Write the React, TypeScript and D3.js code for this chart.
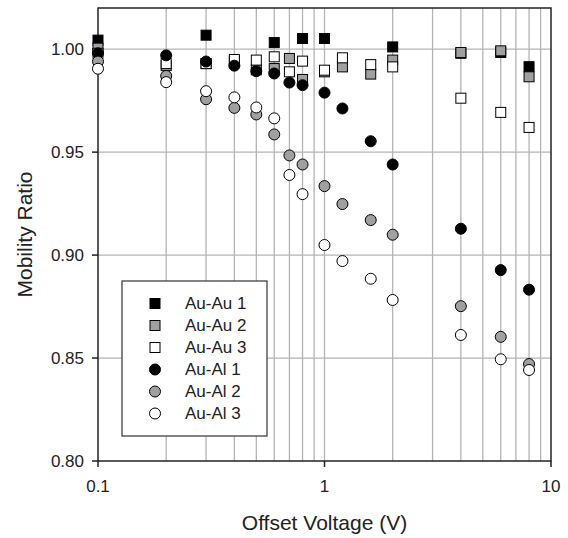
import React from "react";
import * as d3 from "d3";

const voltages = [0.1, 0.2, 0.3, 0.4, 0.5, 0.6, 0.7, 0.8, 1.0, 1.2, 1.6, 2, 4, 6, 8];

const auAu1X = [0.1, 0.3, 0.6, 0.8, 1.0, 2, 4, 6, 8];
const auAu1 = [1.0044, 1.0068, 1.0032, 1.0052, 1.0052, 1.0011, 0.998, 0.9984, 0.9915];

const auAu2 = [1.0005, 0.992, 0.993, 0.994, 0.990, 0.9906, 0.9955, 0.9853, 0.989, 0.9914, 0.9879, 0.9947, 0.9984, 0.9992, 0.9866];
const auAu3 = [0.998, 0.993, 0.993, 0.995, 0.9947, 0.9963, 0.989, 0.9942, 0.9898, 0.9958, 0.9925, 0.9914, 0.9762, 0.9693, 0.962];
const auAl1 = [0.998, 0.997, 0.994, 0.992, 0.9893, 0.9882, 0.9838, 0.9825, 0.9789, 0.9712, 0.9553, 0.944, 0.9128, 0.8927, 0.8832];
const auAl2 = [0.994, 0.987, 0.9757, 0.9715, 0.9683, 0.9586, 0.9484, 0.944, 0.9335, 0.9248, 0.917, 0.9099, 0.8752, 0.8603, 0.8471];
const auAl3 = [0.9905, 0.984, 0.9796, 0.9766, 0.9717, 0.9664, 0.9389, 0.9296, 0.9049, 0.8971, 0.8885, 0.8782, 0.8612, 0.8494, 0.8442];

const yTicks = [0.8, 0.85, 0.9, 0.95, 1.0];
const xTicks = [0.1, 1, 10];
const xGrid = [0.2, 0.3, 0.4, 0.5, 0.6, 0.7, 0.8, 0.9, 1, 2, 3, 4, 5, 6, 7, 8, 9];

const seriesNames = ["Au-Au 1", "Au-Au 2", "Au-Au 3", "Au-Al 1", "Au-Al 2", "Au-Al 3"];

const W = 568;
const H = 538;
const left = 98;
const right = 551;
const top = 8;
const bottom = 461;
const font = "'Liberation Sans', Arial, sans-serif";

const series = [
  { name: seriesNames[0], xs: auAu1X, ys: auAu1, shape: "square", fill: "#000" },
  { name: seriesNames[1], xs: voltages, ys: auAu2, shape: "square", fill: "#a0a0a0" },
  { name: seriesNames[2], xs: voltages, ys: auAu3, shape: "square", fill: "#fff" },
  { name: seriesNames[3], xs: voltages, ys: auAl1, shape: "circle", fill: "#000" },
  { name: seriesNames[4], xs: voltages, ys: auAl2, shape: "circle", fill: "#a0a0a0" },
  { name: seriesNames[5], xs: voltages, ys: auAl3, shape: "circle", fill: "#fff" },
];

function Marker({ shape, fill, cx, cy }: { shape: string; fill: string; cx: number; cy: number }) {
  if (shape === "square") {
    return <rect x={cx - 5} y={cy - 5} width={10} height={10} fill={fill} stroke="#000" strokeWidth={1} />;
  }
  return <circle cx={cx} cy={cy} r={5.5} fill={fill} stroke="#000" strokeWidth={1} />;
}

export default function App() {
  const x = d3.scaleLog().domain([0.1, 10]).range([left, right]);
  const y = d3.scaleLinear().domain([0.8, 1.02]).range([bottom, top]);

  return (
    <svg width={W} height={H} style={{ position: "absolute", left: 0, top: 0 }} fontFamily={font}>
      <rect width={W} height={H} fill="#fff" />
      {xGrid.map((v) => (
        <line key={"gx" + v} x1={x(v)} x2={x(v)} y1={top} y2={bottom} stroke="#b4b4b4" strokeWidth={1.3} />
      ))}
      {yTicks.slice(1).map((v) => (
        <line key={"gy" + v} x1={left} x2={right} y1={y(v)} y2={y(v)} stroke="#b4b4b4" strokeWidth={1.3} />
      ))}
      <rect x={left} y={top} width={right - left} height={bottom - top} fill="none" stroke="#222" strokeWidth={1.5} />
      {yTicks.map((v) => (
        <g key={"ty" + v}>
          <line x1={left - 6} x2={left} y1={y(v)} y2={y(v)} stroke="#222" strokeWidth={1.5} />
          <text x={left - 14} y={y(v)} dy="0.35em" textAnchor="end" fontSize={17} fill="#222">
            {d3.format(".2f")(v)}
          </text>
        </g>
      ))}
      {xTicks.map((v) => (
        <g key={"tx" + v}>
          <line x1={x(v)} x2={x(v)} y1={bottom} y2={bottom + 6} stroke="#222" strokeWidth={1.5} />
          <text x={x(v)} y={bottom + 25} dy="0.35em" textAnchor="middle" fontSize={17} fill="#222">
            {String(v)}
          </text>
        </g>
      ))}
      <text x={(left + right) / 2} y={530} textAnchor="middle" fontSize={21} fill="#222">
        Offset Voltage (V)
      </text>
      <text
        transform={`translate(32, ${(top + bottom) / 2}) rotate(-90)`}
        textAnchor="middle"
        fontSize={21}
        fill="#222"
      >
        Mobility Ratio
      </text>
      {series.map((s) =>
        s.ys.map((v, i) => (
          <Marker key={s.name + i} shape={s.shape} fill={s.fill} cx={x(s.xs[i])} cy={y(v)} />
        ))
      )}
      <rect x={122} y={281} width={145} height={155} fill="#fff" stroke="#333" strokeWidth={1.2} />
      {series.map((s, i) => (
        <g key={"lg" + i}>
          <Marker shape={s.shape} fill={s.fill} cx={155} cy={303.5 + i * 22} />
          <text x={185} y={303.5 + i * 22} dy="0.35em" fontSize={17} fill="#222">
            {s.name}
          </text>
        </g>
      ))}
    </svg>
  );
}
